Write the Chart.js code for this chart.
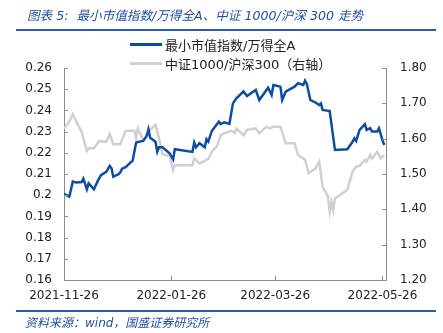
<!DOCTYPE html>
<html>
<head>
<meta charset="utf-8">
<script src="https://cdn.jsdelivr.net/npm/chart.js@4"></script>
<style>
  html,body{margin:0;padding:0;background:#fff;}
  #wrap{position:relative;width:443px;height:333px;overflow:hidden;font-family:"DejaVu Sans","Noto Sans CJK SC",sans-serif;}
  #c{position:absolute;left:0;top:0;}
  .title{position:absolute;left:27px;top:5px;font-size:12.6px;font-style:italic;color:#1f4e9a;white-space:nowrap;font-family:"DejaVu Sans","Noto Sans CJK SC",sans-serif;}
  .rule{position:absolute;left:16px;width:420px;height:2px;background:#2a5aa8;}
  .source{position:absolute;left:25px;top:313px;font-size:12px;font-style:italic;color:#1f4e9a;white-space:nowrap;}
  .leg{position:absolute;left:130px;font-size:13px;color:#222;white-space:nowrap;display:flex;align-items:center;}
  .leg span.ln{display:inline-block;width:32px;height:3px;margin-right:3px;}
</style>
</head>
<body>
<div id="wrap">
  <canvas id="c" width="443" height="333"></canvas>
  <div class="title">图表 5:&nbsp; 最小市值指数/万得全A、中证 1000/沪深 300 走势</div>
  <div class="rule" style="top:29px"></div>
  <div class="leg" style="top:35px"><span class="ln" style="background:#0c4da2"></span>最小市值指数/万得全A</div>
  <div class="leg" style="top:54px"><span class="ln" style="background:#d0d0d0"></span>中证1000/沪深300（右轴）</div>
  <div class="rule" style="top:310px"></div>
  <div class="source">资料来源：wind，国盛证券研究所</div>
</div>
<script>
const startDate = "2021-11-26";
const xTickDates = ["2021-11-26","2022-01-26","2022-03-26","2022-05-26"];
const xMaxDate = "2022-05-28";
const leftTicks = [0.16,0.17,0.18,0.19,0.20,0.21,0.22,0.23,0.24,0.25,0.26];
const rightTicks = [1.20,1.30,1.40,1.50,1.60,1.70,1.80];

const blueDates = ["2021-11-26","2021-11-29","2021-12-01","2021-12-03","2021-12-06","2021-12-07","2021-12-09","2021-12-10","2021-12-13","2021-12-15","2021-12-17","2021-12-20","2021-12-22","2021-12-23","2021-12-24","2021-12-27","2021-12-28","2021-12-29","2021-12-31","2022-01-04","2022-01-06","2022-01-07","2022-01-10","2022-01-12","2022-01-13","2022-01-14","2022-01-17","2022-01-18","2022-01-19","2022-01-21","2022-01-25","2022-01-27","2022-01-28","2022-02-07","2022-02-08","2022-02-09","2022-02-11","2022-02-14","2022-02-15","2022-02-16","2022-02-18","2022-02-22","2022-02-23","2022-02-25","2022-02-28","2022-03-02","2022-03-04","2022-03-08","2022-03-10","2022-03-15","2022-03-17","2022-03-22","2022-03-24","2022-03-25","2022-03-29","2022-03-30","2022-04-01","2022-04-06","2022-04-08","2022-04-11","2022-04-12","2022-04-13","2022-04-15","2022-04-18","2022-04-20","2022-04-21","2022-04-22","2022-04-26","2022-04-29","2022-05-06","2022-05-09","2022-05-10","2022-05-11","2022-05-13","2022-05-16","2022-05-17","2022-05-19","2022-05-20","2022-05-23","2022-05-24","2022-05-26","2022-05-27"];
const blueValues = [0.2006,0.1993,0.2064,0.2060,0.2062,0.2078,0.2028,0.2056,0.2028,0.2064,0.2095,0.2110,0.2138,0.2127,0.2087,0.2099,0.2108,0.2125,0.2132,0.2163,0.2248,0.2251,0.2256,0.2279,0.2311,0.2271,0.2252,0.2205,0.2226,0.2226,0.2198,0.2169,0.2217,0.2204,0.2248,0.2226,0.2245,0.2226,0.2264,0.2253,0.2303,0.2347,0.2335,0.2344,0.2336,0.2433,0.2457,0.2490,0.2468,0.2496,0.2449,0.2507,0.2473,0.2520,0.2512,0.2449,0.2489,0.2512,0.2528,0.2520,0.2540,0.2525,0.2449,0.2437,0.2425,0.2433,0.2402,0.2397,0.2213,0.2217,0.2252,0.2268,0.2256,0.2308,0.2335,0.2308,0.2316,0.2300,0.2300,0.2316,0.2260,0.2237];

const grayDates = ["2021-11-26","2021-11-29","2021-12-01","2021-12-03","2021-12-06","2021-12-08","2021-12-09","2021-12-10","2021-12-13","2021-12-16","2021-12-20","2021-12-22","2021-12-24","2021-12-28","2021-12-31","2022-01-05","2022-01-06","2022-01-07","2022-01-10","2022-01-11","2022-01-13","2022-01-17","2022-01-19","2022-01-21","2022-01-25","2022-01-27","2022-01-28","2022-02-07","2022-02-08","2022-02-11","2022-02-16","2022-02-18","2022-02-21","2022-02-23","2022-02-25","2022-03-01","2022-03-03","2022-03-04","2022-03-07","2022-03-08","2022-03-10","2022-03-15","2022-03-17","2022-03-21","2022-03-23","2022-03-25","2022-03-29","2022-04-01","2022-04-06","2022-04-08","2022-04-12","2022-04-14","2022-04-18","2022-04-20","2022-04-22","2022-04-25","2022-04-26","2022-04-27","2022-04-28","2022-04-29","2022-05-06","2022-05-09","2022-05-11","2022-05-13","2022-05-16","2022-05-17","2022-05-19","2022-05-20","2022-05-23","2022-05-25","2022-05-27"];
const grayValues = [1.629,1.648,1.670,1.648,1.620,1.582,1.565,1.573,1.573,1.593,1.591,1.613,1.584,1.584,1.622,1.623,1.601,1.629,1.596,1.601,1.620,1.639,1.601,1.556,1.551,1.511,1.525,1.525,1.544,1.530,1.542,1.563,1.579,1.610,1.615,1.622,1.617,1.629,1.615,1.609,1.625,1.629,1.615,1.634,1.629,1.634,1.634,1.587,1.587,1.554,1.540,1.502,1.516,1.535,1.464,1.436,1.393,1.422,1.398,1.431,1.455,1.506,1.521,1.523,1.540,1.535,1.554,1.544,1.563,1.544,1.554];

function dayOffset(s){
  const p = s.split("-").map(Number);
  const q = startDate.split("-").map(Number);
  return Math.round((Date.UTC(p[0],p[1]-1,p[2]) - Date.UTC(q[0],q[1]-1,q[2]))/86400000);
}
const xTickVals = xTickDates.map(dayOffset);
const axisColor = "#8c8c8c";

const inwardTicks = {
  id:"inwardTicks",
  afterDraw(chart){
    const ctx = chart.ctx, a = chart.chartArea;
    ctx.save();
    ctx.strokeStyle = axisColor; ctx.lineWidth = 1;
    ctx.beginPath();
    chart.scales.y.ticks.forEach(t=>{
      const y = Math.round(chart.scales.y.getPixelForValue(t.value))+0.5;
      ctx.moveTo(a.left, y); ctx.lineTo(a.left+4, y);
    });
    chart.scales.y1.ticks.forEach(t=>{
      const y = Math.round(chart.scales.y1.getPixelForValue(t.value))+0.5;
      ctx.moveTo(a.right, y); ctx.lineTo(a.right-4, y);
    });
    chart.scales.x.ticks.forEach(t=>{
      const x = Math.round(chart.scales.x.getPixelForValue(t.value))+0.5;
      ctx.moveTo(x, a.bottom); ctx.lineTo(x, a.bottom-4);
    });
    ctx.stroke();
    ctx.restore();
  }
};

const tickFont = {family:"DejaVu Sans", size:12};

new Chart(document.getElementById("c"), {
  type:"line",
  data:{
    datasets:[
      {label:"最小市值指数/万得全A", data:blueDates.map((d,i)=>({x:dayOffset(d), y:blueValues[i]})),
       borderColor:"#0c4da2", borderWidth:2.5, pointRadius:0, tension:0, yAxisID:"y", order:0},
      {label:"中证1000/沪深300（右轴）", data:grayDates.map((d,i)=>({x:dayOffset(d), y:grayValues[i]})),
       borderColor:"#d0d0d0", borderWidth:2.5, pointRadius:0, tension:0, yAxisID:"y1", order:1}
    ]
  },
  options:{
    responsive:false, animation:false, devicePixelRatio:1,
    layout:{padding:{top:68,left:0,right:0,bottom:0}},
    plugins:{legend:{display:false}, title:{display:false}, tooltip:{enabled:false}},
    scales:{
      x:{type:"linear", min:0, max:dayOffset(xMaxDate),
         afterBuildTicks(s){ s.ticks = xTickVals.map(v=>({value:v})); },
         afterFit(s){ s.height = 53; },
         ticks:{font:tickFont, color:"#222", padding:9, maxRotation:0, autoSkip:false,
                callback:(v)=>{ const i = xTickVals.indexOf(v); return i>=0 ? xTickDates[i] : ""; }},
         grid:{drawOnChartArea:false, drawTicks:false},
         border:{display:true, color:axisColor}},
      y:{type:"linear", position:"left", min:0.16, max:0.26,
         afterBuildTicks(s){ s.ticks = leftTicks.map(v=>({value:v})); },
         afterFit(s){ s.width = 64; },
         ticks:{font:tickFont, color:"#222", padding:12, callback:(v)=>String(+Number(v).toFixed(2))},
         grid:{drawOnChartArea:false, drawTicks:false},
         border:{display:true, color:axisColor}},
      y1:{type:"linear", position:"right", min:1.2, max:1.8,
         afterBuildTicks(s){ s.ticks = rightTicks.map(v=>({value:v})); },
         afterFit(s){ s.width = 57; },
         ticks:{font:tickFont, color:"#222", padding:14, callback:(v)=>Number(v).toFixed(2)},
         grid:{drawOnChartArea:false, drawTicks:false},
         border:{display:true, color:axisColor}}
    }
  },
  plugins:[inwardTicks]
});
</script>
</body>
</html>
